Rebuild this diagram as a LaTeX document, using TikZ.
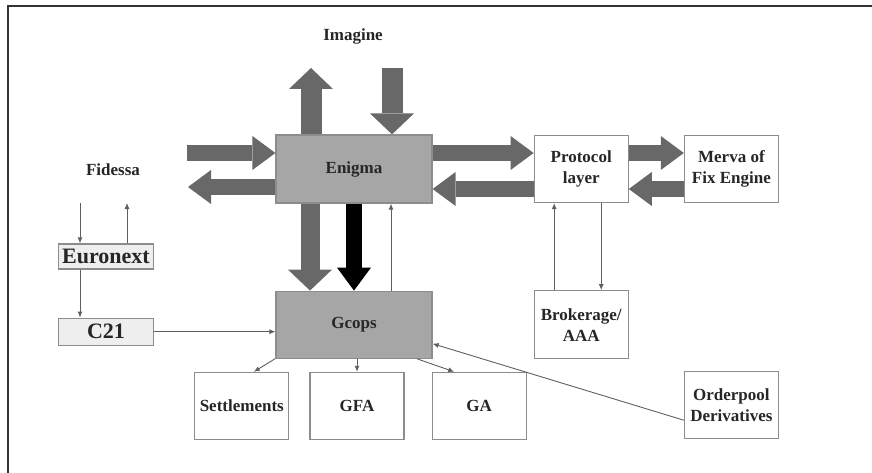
\documentclass[tikz,border=0pt]{standalone}
\usepackage{fontspec}
\setmainfont{Liberation Serif}
\usepackage{tikz}
\usetikzlibrary{positioning,arrows.meta}
\definecolor{boxgray}{RGB}{166,166,166}
\definecolor{arrowgray}{RGB}{104,104,104}
\definecolor{linegray}{RGB}{95,95,95}
\definecolor{edgegray}{RGB}{140,140,140}
\definecolor{lightfill}{RGB}{238,238,238}

\begin{document}
\begin{tikzpicture}[x=1pt,y=-1pt,inner sep=2pt,font=\fontsize{17}{21}\selectfont\bfseries,text=black!85]
\tikzstyle{block}=[rectangle, draw=edgegray, line width=1.2pt, align=center, minimum width=94pt, minimum height=67pt]
\tikzstyle{darkblock}=[block, fill=boxgray, draw=boxgray!85!black, minimum width=156pt]
\tikzstyle{tagbox}=[rectangle, draw=edgegray, fill=lightfill, line width=1.2pt, minimum width=95pt, font=\fontsize{22}{24}\selectfont\bfseries]
\tikzstyle{connect}=[-{Latex[length=6pt,width=5pt]}, linegray, line width=0.9pt]
\tikzstyle{hbig}=[arrowgray, line width=16pt, -{Triangle[length=23pt,width=34pt,line width=0pt]}]
\tikzstyle{vbig}=[arrowgray, line width=21pt, -{Triangle[length=21pt,width=44pt,line width=0pt]}]
\useasboundingbox (0,0) rectangle (872,473);
\draw[line width=1.8pt, black!80] (8,473) -- (8,6) -- (872,6);
% boxes
\node[darkblock, minimum height=68pt] (enigma) at (354,169) {Enigma};
\node[darkblock] (gcops) [below=87pt of enigma] {Gcops};
\node[block] (protocol) [right=101pt of enigma] {Protocol\\layer};
\node[block] (merva) [right=55pt of protocol] {Merva of\\Fix Engine};
\node[block, minimum height=68pt] (broker) [below=87pt of protocol] {Brokerage/\\AAA};
\node[block] (gfa) [below=13pt of gcops, xshift=3pt] {GFA};
\node[block] (settle) [left=20pt of gfa] {Settlements};
\node[block] (ga) [right=27pt of gfa] {GA};
\node[block] (orderpool) [below=168pt of merva] {Orderpool\\Derivatives};
\node[tagbox, minimum height=25pt] (euronext) at (106,256.5) {Euronext};
\node[tagbox, minimum height=27pt] (c21) [below=48pt of euronext] {C21};
\node (fidessa) at (113,170) {Fidessa};
\node (imagine) at (353,36) {Imagine};
% free ends
\coordinate (imgout) at (311,68);
\coordinate (imgin) at (392,68);
\coordinate (fidin) at (187,153);
\coordinate (fidout) at (188,187);
\coordinate (fid1) at (80,203);
\coordinate (fid2) at (127,203);
% big arrows
\draw[hbig] (fidin) -- ([yshift=16pt]enigma.west);
\draw[hbig] ([yshift=-18pt]enigma.west) -- (fidout);
\draw[hbig] ([yshift=16pt]enigma.east) -- ([yshift=16pt]protocol.west);
\draw[hbig] ([yshift=-20pt]protocol.west) -- ([yshift=-20pt]enigma.east);
\draw[hbig] ([yshift=16pt]protocol.east) -- ([yshift=16pt]merva.west);
\draw[hbig] ([yshift=-20pt]merva.west) -- ([yshift=-20pt]protocol.east);
\draw[vbig] ([xshift=-43pt]enigma.north) -- (imgout);
\draw[vbig] (imgin) -- ([xshift=38pt]enigma.north);
\draw[vbig, line width=19pt] ([xshift=-44pt]enigma.south) -- ([xshift=-44pt]gcops.north);
\draw[hbig, black] (enigma.south) -- (gcops.north);
% thin links
\draw[connect] ([xshift=37pt]gcops.north) -- ([xshift=37pt]enigma.south);
\draw[connect] ([xshift=-27pt]broker.north) -- ([xshift=-27pt]protocol.south);
\draw[connect] ([xshift=20pt]protocol.south) -- ([xshift=20pt]broker.north);
\draw[connect] (fid1) -- (fid1 |- euronext.north);
\draw[connect] (fid2 |- euronext.north) -- (fid2);
\draw[connect] (fid1 |- euronext.south) -- (fid1 |- c21.north);
\draw[connect] (c21.east) -- (gcops.west |- c21.east);
\draw[connect] ([xshift=-79pt]gcops.south) -- ([xshift=12pt]settle.north);
\draw[connect] ([xshift=3pt]gcops.south) -- (gfa.north);
\draw[connect] ([xshift=63pt]gcops.south) -- ([xshift=-25pt]ga.north);
\draw[connect] ([yshift=-15pt]orderpool.west) -- ([yshift=-19pt]gcops.east);
\end{tikzpicture}
\end{document}
